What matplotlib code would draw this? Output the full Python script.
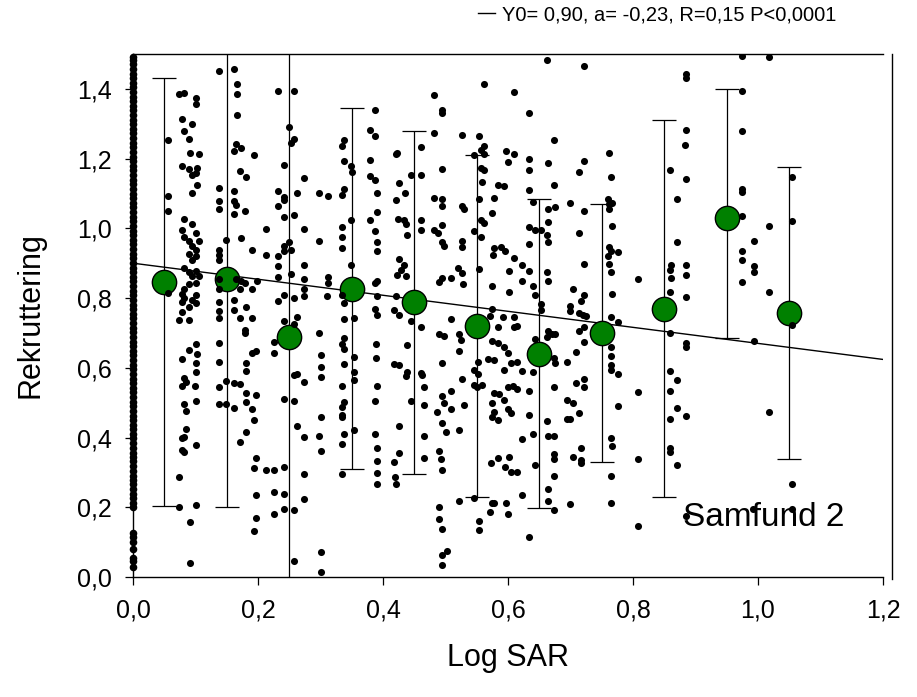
import matplotlib
matplotlib.use("Agg")
import matplotlib.pyplot as plt
import numpy as np

plt.rcParams['font.family'] = ['Liberation Sans', 'DejaVu Sans']

# ---------------- data ----------------
# bin means of Rekruttering with error bars (lower / upper ends)
mean_x = [0.05, 0.15, 0.25, 0.35, 0.45, 0.55, 0.65, 0.75, 0.85, 0.95, 1.05]
mean_y = [0.845, 0.855, 0.688, 0.827, 0.788, 0.720, 0.641, 0.700, 0.770, 1.030, 0.757]
bar_low = [0.204, 0.201, -0.10, 0.311, 0.295, 0.230, 0.197, 0.330, 0.230, 0.685, 0.338]
bar_high = [1.431, 1.60, 1.60, 1.344, 1.280, 1.209, 1.083, 1.071, 1.310, 1.399, 1.176]

# regression
fit_y0 = 0.90
fit_a = -0.23
fit_range = [0.0, 1.2]
fit_label = "Y0= 0,90, a= -0,23, R=0,15 P<0,0001"

# raw observations at Log SAR = 0
zero_col_y = [0.03, 0.045, 0.055, 0.08, 0.10, 0.115, 0.125,
              0.20, 0.212, 0.226, 0.238, 0.251, 0.266, 0.279, 0.291, 0.305, 0.318,
              0.332, 0.344, 0.357, 0.371, 0.384, 0.398, 0.41, 0.424, 0.437, 0.45,
              0.463, 0.477, 0.49, 0.503, 0.516, 0.53, 0.543, 0.556, 0.569, 0.583,
              0.596, 0.609, 0.622, 0.636, 0.649, 0.662, 0.675, 0.689, 0.702, 0.715,
              0.728, 0.742, 0.755, 0.768, 0.781, 0.795, 0.808, 0.821, 0.834, 0.848,
              0.861, 0.874, 0.887, 0.901, 0.914, 0.927, 0.94, 0.954, 0.967, 0.98,
              0.993, 1.007, 1.02, 1.033, 1.046, 1.06, 1.073, 1.086, 1.099, 1.113,
              1.126, 1.139, 1.152, 1.166, 1.179, 1.192, 1.205, 1.219, 1.232, 1.245,
              1.258, 1.272, 1.285, 1.298, 1.311, 1.325, 1.338, 1.351, 1.364, 1.378,
              1.391, 1.404, 1.417, 1.431, 1.444, 1.457, 1.47, 1.483, 1.49]

# raw observations, Log SAR 0.05 - 0.2
obs_a = [[.137,1.45],[.162,1.458],[.166,1.414],[.166,1.385],[.166,1.325],[.193,1.211],
 [.074,1.385],[.082,1.389],[.100,1.375],[.100,1.358],[.078,1.315],[.095,1.298],[.082,1.278],[.089,1.256],[.056,1.253],
 [.165,1.243],[.173,1.229],[.162,1.222],[.091,1.217],[.105,1.212],[.078,1.18],[.089,1.171],[.102,1.172],[.100,1.159],[.095,1.154],[.102,1.124],[.095,1.102],
 [.171,1.164],[.181,1.146],[.056,1.093],[.138,1.115],[.162,1.108],[.137,1.077],[.162,1.077],[.165,1.067],[.138,1.055],[.162,1.040],[.179,1.049],[.056,1.049],
 [.082,1.027],[.095,1.012],[.078,.995],[.082,.975],[.100,.987],[.105,.964],[.089,.964],[.095,.948],[.100,.938],[.089,.926],[.100,.922],[.095,.909],[.082,.886],[.100,.879],[.089,.874],[.095,.863],[.105,.863],[.100,.843],[.089,.839],
 [.148,.967],[.173,.973],[.191,.938],[.137,.938],[.137,.924],[.137,.909],
 [.056,.814],[.082,.825],[.078,.812],[.082,.800],[.078,.788],[.100,.809],[.095,.795],[.089,.774],[.078,.759],[.074,.737],[.089,.737],[.100,.785],
 [.137,.854],[.137,.825],[.165,.855],[.173,.849],[.179,.843],[.171,.826],[.191,.826],[.162,.795],[.162,.765],[.171,.744],[.181,.775],[.179,.709],[.179,.700],[.191,.744],[.137,.790],[.137,.762],[.137,.744],
 [.089,.650],[.100,.667],[.102,.640],[.078,.624],[.100,.614],[.100,.588],[.082,.570],[.078,.548],[.085,.558],[.099,.548],[.100,.505],[.082,.496],[.085,.477],
 [.137,.670],[.137,.618],[.191,.643],[.197,.648],[.181,.614],[.181,.590],[.137,.545],[.148,.561],[.162,.557],[.171,.553],[.181,.529],[.197,.521],[.181,.501],[.191,.482],[.194,.450],[.137,.496],[.148,.496],[.162,.486],
 [.085,.425],[.078,.400],[.082,.402],[.078,.365],[.082,.358],[.100,.380],[.181,.415],[.171,.387],[.074,.288],[.197,.342],[.194,.312],[.197,.236],[.074,.201],[.100,.206],[.197,.169],[.194,.132],[.091,.157],[.091,.040]]

# raw observations, Log SAR 0.2 - 0.4
obs_b = [[.199,.850],[.232,1.393],[.257,1.393],[.25,1.291],[.257,1.256],[.252,1.246],[.242,1.181],[.274,1.144],[.232,1.107],[.242,1.090],[.242,1.080],[.232,1.063],[.262,1.102],[.242,1.033],[.257,1.037],[.213,.998],[.274,.998],[.25,.961],[.242,.948],[.242,.936],[.252,.938],[.232,.921],[.213,.924],[.232,.891],[.274,.896],[.252,.868],[.232,.859],[.274,.855],[.274,.827],[.274,.807],[.242,.809],[.232,.792],[.257,.799],[.262,.745],[.242,.733],[.257,.726],[.226,.673],[.226,.643],[.257,.579],[.262,.581],[.274,.559],[.242,.511],[.257,.504],[.262,.432],[.274,.402],[.213,.308],[.226,.308],[.242,.316],[.274,.296],[.226,.243],[.242,.238],[.274,.225],[.242,.194],[.226,.182],[.257,.192],[.257,.045],
 [.298,1.102],[.312,1.092],[.298,.963],[.312,.859],[.312,.844],[.310,.805],[.298,.700],[.301,.638],[.301,.603],[.301,.574],[.301,.460],[.298,.405],[.301,.360],[.301,.072],[.301,.013],
 [.337,1.254],[.334,1.236],[.338,1.194],[.348,1.179],[.351,1.161],[.338,1.113],[.335,1.097],[.348,1.025],[.334,1.003],[.334,.974],[.335,.943],[.348,.894],[.334,.810],[.338,.787],[.337,.739],[.354,.744],[.337,.686],[.335,.668],[.337,.655],[.353,.630],[.337,.610],[.353,.589],[.353,.564],[.334,.549],[.337,.501],[.334,.489],[.335,.465],[.334,.458],[.337,.410],[.335,.382],[.353,.422],[.335,.296],
 [.387,1.340],[.379,1.283],[.387,1.264],[.379,1.197],[.379,1.149],[.387,1.139],[.390,1.102],[.390,1.047],[.379,1.023],[.387,.991],[.390,.961],[.390,.934],[.390,.849],[.387,.842],[.390,.805],[.387,.769],[.390,.752],[.388,.668],[.388,.628],[.391,.549],[.387,.506],[.387,.410],[.391,.370],[.391,.333],[.390,.299],[.390,.266]]

# raw observations, Log SAR 0.4 - 0.6
obs_c = [[.561,1.414],[.610,1.391],[.481,1.381],[.495,1.338],[.495,1.330],[.461,1.232],[.481,1.273],[.526,1.268],[.554,1.264],[.561,1.236],[.557,1.226],[.562,1.214],[.545,1.211],[.423,1.216],[.421,1.214],[.597,1.222],[.610,1.214],[.600,1.189],[.557,1.174],[.562,1.166],[.495,1.169],[.444,1.152],[.461,1.154],[.426,1.130],[.435,1.100],[.421,1.080],[.558,1.134],[.481,1.087],[.495,1.083],[.495,1.065],[.526,1.065],[.530,1.055],[.553,1.083],[.578,1.087],[.584,1.125],[.593,1.120],[.574,1.045],
 [.424,1.027],[.433,1.025],[.437,1.013],[.439,.981],[.461,1.023],[.461,.996],[.482,.996],[.488,.988],[.495,1.010],[.495,.961],[.498,.948],[.557,1.025],[.561,1.015],[.557,.976],[.545,.991],[.526,.963],[.526,.946],[.578,.943],[.576,.924],[.589,.946],[.595,.936],[.610,.916],[.602,.878],
 [.426,.911],[.434,.896],[.428,.881],[.423,.866],[.437,.864],[.495,.857],[.490,.847],[.509,.857],[.520,.886],[.526,.873],[.528,.839],[.554,.884],[.574,.835],[.602,.817],
 [.421,.807],[.418,.767],[.426,.752],[.444,.735],[.461,.716],[.490,.696],[.498,.691],[.509,.739],[.521,.696],[.524,.681],[.522,.648],[.495,.615],[.439,.666],
 [.574,.769],[.572,.749],[.592,.747],[.610,.747],[.609,.718],[.584,.716],[.574,.678],[.584,.671],[.593,.660],[.600,.643],[.605,.613],[.594,.594],[.577,.623],[.568,.626],[.552,.618],[.546,.594],[.552,.581],[.546,.551],[.558,.551],[.551,.544],[.578,.527],[.586,.524],[.600,.544],[.608,.549],[.594,.509],[.600,.481],[.604,.469],[.574,.499],[.578,.474],[.574,.460],[.584,.450],
 [.418,.610],[.426,.608],[.439,.589],[.437,.577],[.460,.586],[.463,.579],[.465,.544],[.444,.504],[.465,.494],[.495,.519],[.509,.534],[.526,.569],[.497,.499],[.487,.474],[.509,.481],[.530,.494],
 [.426,.432],[.465,.405],[.495,.442],[.501,.415],[.521,.422],[.426,.355],[.418,.329],[.465,.340],[.490,.360],[.493,.338],[.495,.306],[.419,.286],[.421,.266],
 [.584,.340],[.573,.326],[.602,.345],[.595,.316],[.605,.301],[.521,.219],[.546,.226],[.574,.211],[.578,.213],[.597,.213],[.572,.187],[.600,.182],[.490,.200],[.490,.167],[.495,.137],[.554,.162],[.554,.134],[.502,.074],[.495,.063],[.495,.033]]

# raw observations, Log SAR 0.6 - 0.8
obs_d = [[.662,1.484],[.721,1.467],[.633,1.330],[.674,1.254],[.633,1.199],[.633,1.166],[.664,1.186],[.721,1.192],[.713,1.161],[.761,1.217],[.764,1.146],[.633,1.110],[.674,1.125],[.640,1.075],[.664,1.055],[.675,1.062],[.699,1.073],[.721,1.051],[.760,1.083],[.762,1.070],[.767,1.073],[.761,1.055],
 [.633,1.005],[.643,.996],[.653,.996],[.662,.981],[.664,1.017],[.664,.961],[.633,.954],[.713,.988],[.766,1.007],
 [.623,.894],[.633,.878],[.662,.874],[.664,.849],[.623,.850],[.640,.835],[.643,.809],[.721,.899],[.761,.946],[.765,.934],[.760,.921],[.762,.898],[.764,.874],[.776,.931],[.808,.855],[.766,.812],
 [.653,.782],[.653,.767],[.704,.827],[.721,.810],[.716,.792],[.699,.777],[.699,.762],[.713,.757],[.720,.752],[.724,.749],[.764,.747],[.776,.732],[.614,.720],
 [.664,.706],[.670,.698],[.675,.698],[.662,.688],[.713,.706],[.721,.716],[.643,.683],[.721,.675],
 [.674,.628],[.675,.613],[.614,.616],[.623,.591],[.640,.587],[.695,.618],[.709,.646],[.765,.660],[.765,.633],[.765,.608],[.765,.594],[.776,.581],
 [.614,.539],[.633,.534],[.674,.546],[.709,.557],[.721,.569],[.721,.544],[.808,.531],[.776,.491],
 [.695,.509],[.704,.499],[.713,.469],[.695,.452],[.699,.452],[.633,.466],[.662,.447],[.623,.395],[.640,.410],[.664,.403],[.674,.403],
 [.765,.398],[.766,.375],[.674,.352],[.674,.338],[.704,.345],[.716,.370],[.716,.335],[.716,.326],[.643,.321],[.614,.301],[.808,.337],
 [.674,.289],[.765,.289],[.623,.236],[.664,.253],[.664,.219],[.674,.192],[.699,.208],[.765,.213],[.808,.147],[.633,.114]]

# raw observations, Log SAR 0.8 - 1.1
obs_e = [[.974,1.494],[1.017,1.490],[.884,1.442],[.884,1.432],[.974,1.395],[.884,1.281],[.974,1.278],[.883,1.239],[.884,1.141],[.859,1.166],[.870,1.083],[.974,1.113],[.974,1.103],[.974,1.035],[1.017,1.008],[.870,.961],[.993,.963],[.974,.934],[.974,.908],[.993,.891],[.993,.874],[.974,.847],[1.017,.817],[.861,.894],[.859,.881],[.861,.857],[.884,.894],[.884,.865],[.859,.817],[.884,.802],[.859,.700],[.884,.670],[.884,.660],[.993,.678],[.859,.591],[.870,.564],[.859,.534],[.870,.486],[.884,.462],[.859,.453],[1.017,.474],[.859,.370],[.859,.358],[.870,.321],[.884,.175],[.992,.195],
 [1.055,1.148],[1.055,1.022],[1.055,.723],[1.055,.267],[1.055,.195]]

x_ticks = [0.0, 0.2, 0.4, 0.6, 0.8, 1.0, 1.2]
x_tick_labels = ['0,0', '0,2', '0,4', '0,6', '0,8', '1,0', '1,2']
y_ticks = [0.0, 0.2, 0.4, 0.6, 0.8, 1.0, 1.2, 1.4]
y_tick_labels = ['0,0', '0,2', '0,4', '0,6', '0,8', '1,0', '1,2', '1,4']

# ---------------- figure ----------------
fig = plt.figure(figsize=(9.17, 6.97), dpi=100)
ax = fig.add_axes([133/917, 1-577/697, 750/917, 523/697])

obs = np.array(obs_a + obs_b + obs_c + obs_d + obs_e)
ax.scatter(np.zeros(len(zero_col_y)), zero_col_y, s=30, c='black', linewidths=0, zorder=5, clip_on=False)
ax.scatter(obs[:, 0], obs[:, 1], s=26, c='black', linewidths=0, zorder=5)

my = np.array(mean_y)
yerr = [my - np.array(bar_low), np.array(bar_high) - my]
ax.errorbar(mean_x, mean_y, yerr=yerr, fmt='none', ecolor='black',
            elinewidth=0.9, capsize=8.5, capthick=0.9, zorder=3)
ax.plot(mean_x, mean_y, 'o', ms=17.5, mfc='#008000', mec='black', mew=1.0, zorder=4)

fx = np.array(fit_range)
line, = ax.plot(fx, fit_y0 + fit_a * fx, color='black', lw=1.0, zorder=3, label=fit_label)

ax.set_xlim(0, 1.2)
ax.set_ylim(0, 1.5)
ax.set_xticks(x_ticks)
ax.set_xticklabels(x_tick_labels)
ax.set_yticks(y_ticks)
ax.set_yticklabels(y_tick_labels)
ax.tick_params(direction='out', length=5.5, width=0.9, labelsize=18, pad=10, colors='black')

for s in ['left', 'bottom', 'top']:
    ax.spines[s].set_linewidth(1.0)
ax.spines['right'].set_visible(False)
ax.plot([1.012, 1.012], [-0.004, 1.0], transform=ax.transAxes, color='black',
        lw=1.0, clip_on=False)

ax.set_xlabel('Log SAR', fontsize=22)
ax.xaxis.label.set_va('center')
ax.xaxis.set_label_coords(0.5, (577 - 658) / 523)
ax.set_ylabel('Rekruttering', fontsize=22)
ax.yaxis.label.set_va('center')
ax.yaxis.set_label_coords((31 - 133) / 750, 0.5)

ax.text(0.88, 0.17, 'Samfund 2', fontsize=24, va='center', ha='left', zorder=6)

fig.legend(handles=[line], loc='center left',
           bbox_to_anchor=(478/917, 1-15/697), bbox_transform=fig.transFigure,
           frameon=False, fontsize=14.5, handlelength=0.85, handletextpad=0.35,
           borderpad=0, borderaxespad=0)

fig.savefig('out.png', dpi=100)
